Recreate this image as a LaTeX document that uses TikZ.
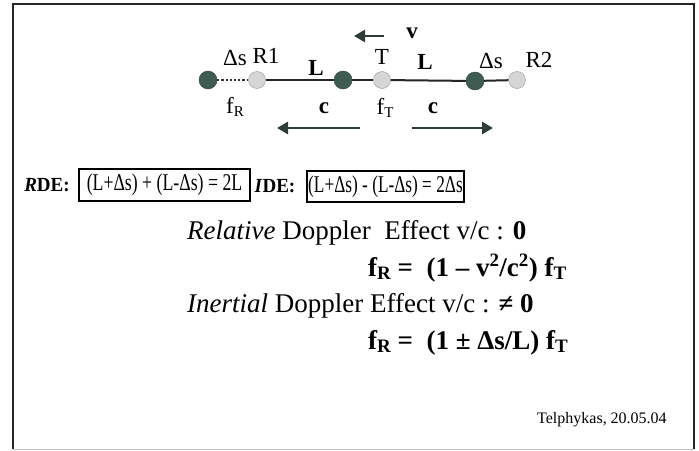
\documentclass[tikz,border=0pt]{standalone}
\usepackage{fontspec}
\setmainfont{Liberation Serif}
\usetikzlibrary{arrows.meta}
\definecolor{darkball}{HTML}{3F5C52}
\definecolor{lightball}{HTML}{D6D6D6}
\definecolor{arrowcol}{HTML}{2E3D38}
\newcommand\mysub[1]{\raisebox{-0.35ex}{\fontsize{15}{15}\selectfont #1}}
\newcommand\bigsub[1]{\raisebox{-0.3ex}{\fontsize{19}{19}\selectfont #1}}
\tikzset{
  x=1pt, y=-1pt,
  dk/.style={circle, fill=darkball, draw=darkball!70!black, minimum size=18pt, inner sep=0pt},
  lt/.style={circle, fill=lightball, draw=gray!80, minimum size=17pt, inner sep=0pt},
  wire/.style={line width=2pt, draw=black!85},
  arr/.style={line width=2.6pt, draw=arrowcol, -{Triangle[length=11pt,width=12pt]}},
  lbl/.style={font=\fontsize{23}{23}\selectfont, inner sep=0pt},
  txt/.style={font=\fontsize{27}{30}\selectfont, inner sep=0pt, anchor=base west},
  eqbox/.style={draw=black, line width=1.3pt, inner sep=0pt, font=\fontsize{24}{24}\selectfont}
}
\begin{document}
\begin{tikzpicture}
\useasboundingbox (0,0) rectangle (699,450);
\fill[white] (0,0) rectangle (699,450);
% frame
\draw[line width=1.5pt, black!85] (13,449) -- (13,4) -- (694,4) -- (694,449);
\draw[line width=0.8pt, black!25] (13,449) -- (694,449);

% balls
\node[dk] (d1) at (208,80) {};
\node[lt] (r1) at (257,80) {};
\node[dk] (d2) at (343,80) {};
\node[lt] (t)  at (382,80) {};
\node[dk] (d3) at (475,81) {};
\node[lt] (r2) at (517,80) {};
\draw[line width=2.2pt, dotted, black!80] (d1) -- (r1);
\draw[wire] (r1) -- (d2);
\draw[wire] (d2) -- (t);
\draw[wire] (t) -- (d3);
\draw[wire] (d3) -- (r2);

% labels
\node[lbl] (ds1) at (235,58) {Δs};
\node[lbl] (lr1) at (266,56) {R1};
\node[lbl] (l1)  at (316,68) {\textbf{L}};
\node[lbl] (lt1) at (382,57) {T};
\node[lbl] (l2)  at (425,62) {\textbf{L}};
\node[lbl] (ds2) at (491,61) {Δs};
\node[lbl] (lr2) at (539,60) {R2};
\node[lbl] (lv)  at (412,33) {\textbf{v}};
\node[lbl] (fr)  at (235,107) {f\mysub{R}};
\node[lbl] (ft)  at (385,108) {f\mysub{T}};
\node[lbl] (c1)  at (324,108) {\textbf{c}};
\node[lbl] (c2)  at (433,108) {\textbf{c}};

% arrows
\coordinate (va) at (384,36);
\coordinate (vb) at (354,36);
\draw[arr] (va) -- (vb);
\coordinate (ca) at (360,128);
\coordinate (cb) at (277,128);
\draw[arr] (ca) -- (cb);
\coordinate (cc) at (412,128);
\coordinate (cd) at (493,128);
\draw[arr] (cc) -- (cd);

% RDE / IDE
\node[lbl, font=\fontsize{20}{20}\selectfont, anchor=base] (rde) at (47,191) {\scalebox{0.95}[1]{\textbf{\textit{R}DE:}}};
\node[eqbox, minimum width=171pt, minimum height=32pt] (box1) at (164.5,185)
  {\scalebox{0.74}[1]{(L+Δs) + (L-Δs) = 2L}};
\node[lbl, font=\fontsize{20}{20}\selectfont, anchor=base] (ide) at (275,192) {\scalebox{0.95}[1]{\textbf{\textit{I}DE:}}};
\node[eqbox, minimum width=157pt, minimum height=31pt] (box2) at (385.5,186.5)
  {\scalebox{0.72}[1]{(L+Δs) - (L-Δs) = 2Δs}};

% text lines
\node[txt] (rel) at (187,239) {\textit{Relative} Doppler\ \ Effect v/c : \textbf{0}};
\node[txt] (eq1) at (368,276) {\textbf{f\bigsub{R} =\ \ (1 – v\textsuperscript{2}/c\textsuperscript{2}) f\bigsub{T}}};
\node[txt] (ine) at (187,312) {\textit{Inertial} Doppler Effect v/c : \textbf{≠ 0}};
\node[txt] (eq2) at (368,349) {\textbf{f\bigsub{R} =\ \ (1 ± Δs/L) f\bigsub{T}}};
\node[txt, font=\fontsize{16}{16}\selectfont] (tel) at (537,423) {Telphykas, 20.05.04};
\end{tikzpicture}
\end{document}
